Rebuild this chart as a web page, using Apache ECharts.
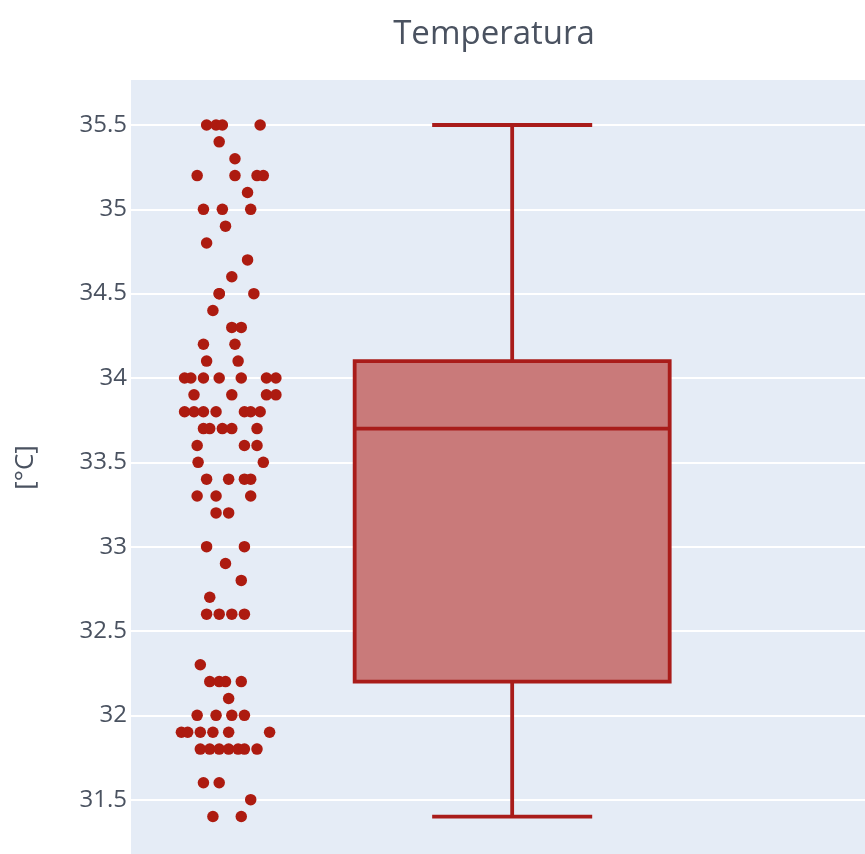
<!DOCTYPE html>
<html>
<head>
<meta charset="utf-8">
<script src="https://cdn.jsdelivr.net/npm/echarts@6/dist/echarts.min.js"></script>
<style>html,body{margin:0;padding:0;background:#fff;overflow:hidden;width:865px;height:854px}#c{width:865px;height:884px}</style>
</head>
<body>
<div id="c"></div>
<script>
// Temperature readings (°C), one entry per observation
const temps = [
  35.5,35.5,35.5,35.5, 35.4, 35.3, 35.2,35.2,35.2,35.2, 35.1, 35.0,35.0,35.0, 34.9, 34.8, 34.7, 34.6,
  34.5,34.5,34.5, 34.4, 34.3,34.3, 34.2,34.2, 34.1,34.1,
  34.0,34.0,34.0,34.0,34.0,34.0,34.0, 33.9,33.9,33.9,33.9,
  33.8,33.8,33.8,33.8,33.8,33.8,33.8, 33.7,33.7,33.7,33.7,33.7,
  33.6,33.6,33.6, 33.5,33.5, 33.4,33.4,33.4,33.4, 33.3,33.3,33.3, 33.2,33.2,
  33.0,33.0, 32.9, 32.8, 32.7, 32.6,32.6,32.6,32.6, 32.3, 32.2,32.2,32.2,32.2, 32.1,
  32.0,32.0,32.0,32.0, 31.9,31.9,31.9,31.9,31.9,31.9,
  31.8,31.8,31.8,31.8,31.8,31.8,31.8, 31.6,31.6, 31.5, 31.4,31.4
];
// Horizontal jitter of each point (in box-width units, relative to box centre)
const jitter = [
  -0.97,-0.94,-0.92,-0.80, -0.93, -0.88, -1.00,-0.88,-0.81,-0.79, -0.84, -0.98,-0.92,-0.83, -0.91, -0.97, -0.84, -0.89,
  -0.93,-0.93,-0.82, -0.95, -0.89,-0.86, -0.98,-0.88, -0.97,-0.87,
  -1.04,-1.02,-0.98,-0.93,-0.86,-0.78,-0.75, -1.01,-0.89,-0.78,-0.75,
  -1.04,-1.01,-0.98,-0.94,-0.85,-0.83,-0.80, -0.98,-0.96,-0.92,-0.89,-0.81,
  -1.00,-0.85,-0.81, -0.997,-0.79, -0.97,-0.90,-0.85,-0.83, -1.00,-0.94,-0.83, -0.94,-0.90,
  -0.97,-0.85, -0.91, -0.86, -0.96, -0.97,-0.93,-0.89,-0.85, -0.99, -0.96,-0.93,-0.91,-0.86, -0.90,
  -1.00,-0.94,-0.89,-0.85, -1.05,-1.03,-0.99,-0.95,-0.90,-0.77,
  -0.99,-0.96,-0.93,-0.90,-0.87,-0.85,-0.81, -0.98,-0.93, -0.83, -0.95,-0.86
];
// Box statistics: [min, Q1, median, Q3, max]
const boxStats = [31.4, 32.2, 33.7, 34.1, 35.5];
const yTicks = [31.5, 32, 32.5, 33, 33.5, 34, 34.5, 35, 35.5];

const LINE = '#a91c1a';
const FILL = '#c97a7a';
const POINT = '#ad1b10';

const chart = echarts.init(document.getElementById('c'), null, {renderer: 'canvas'});
const points = temps.map((t, i) => [jitter[i], t]);

chart.setOption({
  animation: false,
  backgroundColor: '#ffffff',
  title: {
    text: 'Temperatura',
    left: 489, top: 13, textAlign: 'center',
    textStyle: {fontFamily: 'Open Sans', fontSize: 33, fontWeight: 'normal', color: '#4a5260'}
  },
  grid: {left: 131, right: 0, top: 79, bottom: 0, show: true, backgroundColor: '#e5ecf6', borderWidth: 0},
  xAxis: {type: 'value', min: -1.21, max: 1.12, show: false},
  yAxis: {
    type: 'value', min: 31, max: 35.7726, interval: 0.5,
    name: '[°C]', nameLocation: 'middle', nameRotate: 90, nameGap: 92,
    nameTextStyle: {fontFamily: 'Open Sans', fontSize: 26, color: '#4a5260', padding: [0, 0, 0, 28]},
    axisLine: {show: false}, axisTick: {show: false},
    axisLabel: {
      fontFamily: 'Open Sans', fontSize: 24, color: '#4a5260', margin: 4,
      showMaxLabel: false,
      formatter: v => (yTicks.indexOf(v) >= 0 ? String(v) : '')
    },
    splitLine: {lineStyle: {color: '#ffffff', width: 2}}
  },
  series: [
    {
      type: 'custom',
      data: [[0].concat(boxStats)],
      encode: {x: 0, y: [1, 2, 3, 4, 5]},
      renderItem: function (params, api) {
        const x = api.value(0);
        const mn = api.value(1), q1 = api.value(2), md = api.value(3), q3 = api.value(4), mx = api.value(5);
        const half = 0.5, cap = 0.254;
        const pTL = api.coord([x - half, q3]);
        const pBR = api.coord([x + half, q1]);
        const ls = {stroke: LINE, lineWidth: 3.8};
        const line = (a, b) => ({type: 'line', shape: {x1: a[0], y1: a[1], x2: b[0], y2: b[1]}, style: ls});
        return {
          type: 'group',
          children: [
            line(api.coord([x, q3]), api.coord([x, mx])),
            line(api.coord([x, q1]), api.coord([x, mn])),
            line(api.coord([x - cap, mx]), api.coord([x + cap, mx])),
            line(api.coord([x - cap, mn]), api.coord([x + cap, mn])),
            {type: 'rect', shape: {x: pTL[0], y: pTL[1], width: pBR[0] - pTL[0], height: pBR[1] - pTL[1]},
             style: {fill: FILL, stroke: LINE, lineWidth: 3.8}},
            line(api.coord([x - half, md]), api.coord([x + half, md]))
          ]
        };
      }
    },
    {
      type: 'scatter',
      data: points,
      symbol: 'circle',
      symbolSize: 11.5,
      itemStyle: {color: POINT, opacity: 1}
    }
  ]
});
</script>
</body>
</html>
